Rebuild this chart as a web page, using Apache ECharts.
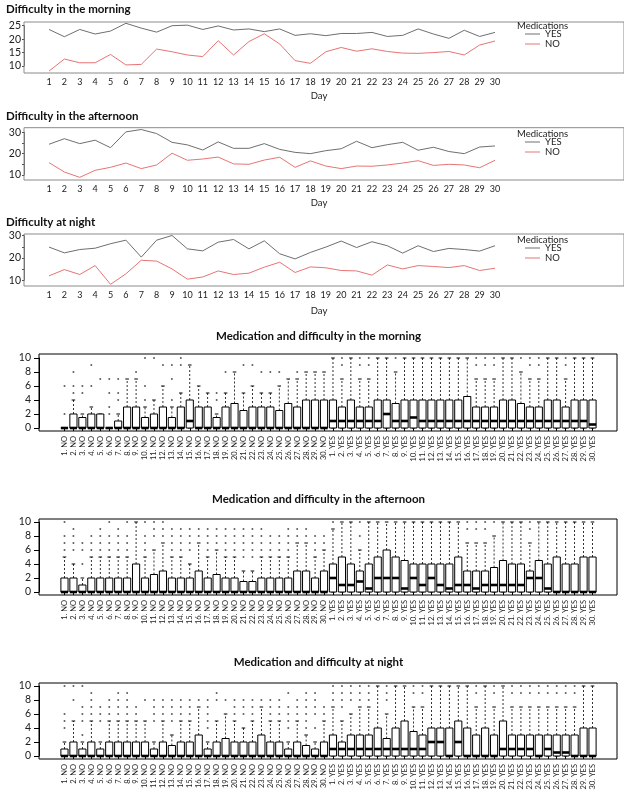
<!DOCTYPE html>
<html><head><meta charset="utf-8">
<script src="https://cdn.jsdelivr.net/npm/echarts@6/dist/echarts.min.js"></script>
<style>html,body{margin:0;padding:0;background:#fff}#c{width:624px;height:797px}</style>
</head><body><div id="c"></div>
<script>
const days = [1,2,3,4,5,6,7,8,9,10,11,12,13,14,15,16,17,18,19,20,21,22,23,24,25,26,27,28,29,30];

const morningYes = [23.6,20.9,23.6,21.9,23.0,25.9,24.1,22.6,25.0,25.2,23.6,24.9,23.4,23.8,22.8,23.8,21.4,22.0,21.3,22.1,22.1,22.5,21.0,21.4,23.8,21.9,20.3,23.3,21.0,22.5];
const morningNo = [8.1,12.6,11.2,11.2,14.3,10.4,10.6,16.3,15.3,14.1,13.5,19.4,14.1,19.1,22.0,18.2,12.0,11.0,15.3,16.9,15.5,16.4,15.4,14.8,14.7,15.0,15.4,14.1,17.8,19.3];
const afternoonYes = [24.4,27.0,24.7,26.3,22.8,30.2,31.3,29.4,25.3,24.1,21.7,25.5,22.5,22.5,24.7,22.0,20.6,20.0,21.4,22.3,25.8,22.8,24.2,25.3,21.6,23.0,21.0,20.0,23.1,23.6];
const afternoonNo = [15.8,11.4,8.9,12.2,13.6,15.6,13.0,14.7,20.2,16.9,17.5,18.4,15.2,15.0,17.0,18.3,13.6,16.6,14.2,13.0,14.2,14.1,14.7,15.6,16.7,14.5,15.0,14.7,13.4,16.9];
const nightYes = [24.9,22.3,23.8,24.4,26.4,28.0,20.4,28.0,30.1,24.1,23.2,27.1,28.3,24.1,27.7,21.9,19.6,22.5,24.9,27.6,24.7,27.3,25.5,22.2,25.5,22.9,24.3,23.8,23.1,25.5];
const nightNo = [12.0,14.8,12.6,16.6,8.2,12.9,19.0,18.6,15.1,10.5,11.5,14.2,12.6,13.2,15.9,18.1,13.5,16.0,15.6,14.4,14.2,12.3,16.9,15.1,16.6,16.2,15.7,16.6,14.4,15.4];

// box stats: [lower whisker, Q1, median, Q3, upper whisker]
const morningNoStats = [[0,0,0,0,0],[0,0,0,2,4],[0,0,0,1.5,2],[0,0,0,2,3],[0,0,0,2,2],[0,0,0,0,0],[0,0,0,1,2],[0,0,0,3,7],[0,0,0,3,7],[0,0,0,1.5,3],[0,0,0,2,4],[0,0,0,3,6],[0,0,0,1.5,3],[0,0,0,3,5],[0,0,1,4,9],[0,0,0,3,6],[0,0,0,3,5],[0,0,0,1.5,2],[0,0,0,3,5],[0,0,0,3.5,8],[0,0,0,2.5,5],[0,0,0,3,6],[0,0,0,3,5],[0,0,0,3,5],[0,0,0,2.5,6],[0,0,0,3.5,7],[0,0,0,3,7],[0,0,0,4,8],[0,0,0,4,8],[0,0,0,4,8]];
const morningNoOut = [[2,6],[5,6,8],[5,6],[6,9],[7],[2,3,5,7],[4,5,7],[],[8],[4,6,10],[10],[9],[4,7,9],[9,10],[],[],[],[4,5],[8],[],[9],[9],[8],[8],[8],[],[8],[],[],[]];
const morningYesStats = [[0,0,1,4,10],[0,0,1,3,7],[0,0,1,4,10],[0,0,1,3,7],[0,0,1,3,7],[0,0,1,4,10],[0,0,2,4,10],[0,0,1,3.5,8],[0,0,1,4,10],[0,0,1.5,4,10],[0,0,1,4,10],[0,0,1,4,10],[0,0,1,4,10],[0,0,1,4,10],[0,0,1,4,10],[0,0,1,4.5,10],[0,0,1,3,7],[0,0,1,3,7],[0,0,1,3,7],[0,0,1,4,10],[0,0,1,4,10],[0,0,1,3.5,8],[0,0,1,3,7],[0,0,1,3,7],[0,0,1,4,10],[0,0,1,4,10],[0,0,1,3,7],[0,0,1,4,10],[0,0,1,4,10],[0,0,0.5,4,10]];
const morningYesOut = [[],[9,10],[],[9,10],[9,10],[],[],[10],[],[],[],[],[],[],[],[],[9,10],[9,10],[9,10],[],[],[10],[9,10],[9,10],[],[],[9,10],[],[],[]];

const afternoonNoStats = [[0,0,0,2,5],[0,0,0,2,4],[0,0,0,1,2],[0,0,0,2,5],[0,0,0,2,5],[0,0,0,2,5],[0,0,0,2,5],[0,0,0,2,5],[0,0,0,4,10],[0,0,0,2,5],[0,0,0,2.5,6],[0,0,0,3,7],[0,0,0,2,5],[0,0,0,2,5],[0,0,0,2,4],[0,0,0,3,7],[0,0,0,2,5],[0,0,0,2.5,6],[0,0,0,2,5],[0,0,0,2,5],[0,0,0,1.5,3],[0,0,0,1.5,3],[0,0,0,2,5],[0,0,0,2,5],[0,0,0,2,5],[0,0,0,2,5],[0,0,0,3,7],[0,0,0,3,7],[0,0,0,2,5],[0,0,0,3,6]];
const afternoonNoOut = [[6,7,8,10],[6,7,8,9],[4,6,7],[6,7,8],[6,7,8,9],[6,7,8,10],[6,7,8,9],[6,7,8,10],[],[6,7,8,10],[8,9,10],[8,9,10],[6,7,8,9],[6,7,8,9],[6,7,8,9],[8,9],[6,7,8,9],[7,8,9],[6,7,8,9],[6,7,8,9],[5,6,7,8,9],[5,6,7,8,9],[6,7,8,9],[6,7,8],[6,7,8],[6,7,8,9],[8,9],[8,9],[6,7,8],[7,8]];
const afternoonYesStats = [[0,0,2,4,9],[0,0,1,5,10],[0,0,1,4,10],[0,0,1.5,3,6],[0,0,0.5,4,10],[0,0,2,5,10],[0,0,2,6,10],[0,0,2,5,10],[0,0,0.5,4.5,10],[0,0,2,4,10],[0,0,1,4,10],[0,0,2,4,10],[0,0,1,4,10],[0,0,0.5,4,10],[0,0,1,5,10],[0,0,1,3,7],[0,0,0.5,3,7],[0,0,1,3,7],[0,0,1,3.5,8],[0,0,1,4.5,10],[0,0,1,4,10],[0,0,1,4,10],[0,0,2,3,7],[0,0,2,4.5,10],[0,0,0.5,4,10],[0,0,0,5,10],[0,0,0,4,10],[0,0,0,4,10],[0,0,0,5,10],[0,0,0,5,10]];
const afternoonYesOut = [[10],[],[],[8,10],[],[],[],[],[],[],[],[],[],[],[],[9,10],[9,10],[9,10],[10],[],[],[],[9,10],[],[],[],[],[],[],[]];

const nightNoStats = [[0,0,0,1,2],[0,0,0,2,5],[0,0,0,1,2],[0,0,0,2,5],[0,0,0,1,2],[0,0,0,2,5],[0,0,0,2,5],[0,0,0,2,5],[0,0,0,2,5],[0,0,0,2,5],[0,0,0,1,2],[0,0,0,2,5],[0,0,0,1.5,3],[0,0,0,2,5],[0,0,0,2,5],[0,0,0,3,7],[0,0,0,1,2],[0,0,0,2,5],[0,0,0,2.5,6],[0,0,0,2,5],[0,0,0,2,4],[0,0,0,2,5],[0,0,0,3,7],[0,0,0,2,5],[0,0,0,2,5],[0,0,0,1,2],[0,0,0,2,5],[0,0,0,1.5,3],[0,0,0,1,2],[0,0,0,2,5]];
const nightNoOut = [[4,5,6,10],[8,10],[3,5,6,7,10],[6,7,8,9],[5,6,7],[6,7,8],[6,7,8,9],[6,7,8,9],[6,7],[8],[5,6,7,8],[6,7,8],[5,6,7,8],[6,7,8],[6,7,8],[8],[4,5,6,7,8],[8,9],[8],[6,7,8],[6,7,8],[6,7,8],[8],[6,7,8],[6,7,8],[4,5,6,7,9],[6,7,8],[4,5,6,7,8,9],[4,6,7,8,9],[6,7]];
const nightYesStats = [[0,0,1,3,7],[0,0,1,2,5],[0,0,1,3,6],[0,0,1,3,7],[0,0,1,3,7],[0,0,1,4,10],[0,0,1,2.5,6],[0,0,1,4,10],[0,0,1,5,10],[0,0,1,3.5,7],[0,0,1,3,7],[0,0,2,4,10],[0,0,2,4,10],[0,0,0,4,10],[0,0,2,5,10],[0,0,0,4,10],[0,0,0,3,7],[0,0,0,4,10],[0,0,0,3,7],[0,0,1,5,10],[0,0,1,3,7],[0,0,1,3,7],[0,0,1,3,7],[0,0,0,3,7],[0,0,1,3,7],[0,0,0.5,3,7],[0,0,0.5,3,7],[0,0,0,3,7],[0,0,0,4,10],[0,0,0,4,10]];
const nightYesOut = [[8,9,10],[7,8,9,10],[8,9,10],[8,9,10],[8,9,10],[],[8,9,10],[],[],[9,10],[9,10],[],[],[],[],[],[9,10],[],[9,10],[],[9,10],[9,10],[9,10],[9,10],[9,10],[9,10],[9,10],[9,10],[],[]];

const boxCategories = days.map(d => d + '. NO').concat(days.map(d => d + '. YES'));

const FONT = 'Lato, "Open Sans", sans-serif';
const TXT = '#222';
const YES_COLOR = '#6f6f6f';
const NO_COLOR = '#e87474';

const chart = echarts.init(document.getElementById('c'), null, {renderer: 'canvas'});
const opt = {animation: false, backgroundColor: '#fff', grid: [], xAxis: [], yAxis: [], series: [], title: [], legend: [], graphic: []};

function addFrame(g) {
  const gi = opt.grid.length;
  opt.grid.push(Object.assign({show: true, backgroundColor: 'transparent', borderWidth: 1}, g));
  opt.xAxis.push({gridIndex: gi, type: 'value', show: false, min: 0, max: 1});
  opt.yAxis.push({gridIndex: gi, type: 'value', show: false, min: 0, max: 1});
}

const lineCharts = [
  {title: 'Difficulty in the morning', yes: morningYes, no: morningNo, min: 10, max: 25, labelAll: true,
   titleTop: 3, data: {top: 25.7, bottom: 731}, frame: {top: 22, bottom: 724}, xOff: 7, dayY: 96, legTop: 20.5},
  {title: 'Difficulty in the afternoon', yes: afternoonYes, no: afternoonNo, min: 10, max: 30, labelAll: false,
   titleTop: 110, data: {top: 132.3, bottom: 622}, frame: {top: 127.7, bottom: 617}, xOff: 5, dayY: 203, legTop: 128.5},
  {title: 'Difficulty at night', yes: nightYes, no: nightNo, min: 10, max: 30, labelAll: false,
   titleTop: 216, data: {top: 235.7, bottom: 516.7}, frame: {top: 234, bottom: 511}, xOff: 5.7, dayY: 311, legTop: 234.5}
];

lineCharts.forEach(lc => {
  opt.title.push({text: lc.title, left: 6, top: lc.titleTop, padding: 0,
    textStyle: {fontFamily: FONT, fontSize: 11.5, fontWeight: 'bold', color: '#111'}});
  addFrame({left: 24, right: 0, top: lc.frame.top, bottom: lc.frame.bottom, borderColor: '#8a8a8a'});
  const gi = opt.grid.length;
  opt.grid.push({left: 49, right: 129, top: lc.data.top, bottom: lc.data.bottom});
  opt.xAxis.push({gridIndex: gi, type: 'value', min: 1, max: 30, interval: 1, offset: lc.xOff,
    axisLine: {show: false}, axisTick: {show: false}, splitLine: {show: false},
    axisLabel: {fontFamily: FONT, fontSize: 9, color: TXT, margin: 5}});
  opt.yAxis.push({gridIndex: gi, type: 'value', min: lc.min, max: lc.max, interval: 5, offset: 25,
    axisLine: {show: true, lineStyle: {color: '#777'}}, axisTick: {show: true, length: 2, lineStyle: {color: '#555'}},
    splitLine: {show: false},
    axisLabel: {fontFamily: FONT, fontSize: 10.5, color: TXT, margin: 3,
      formatter: v => (lc.labelAll || v % 10 === 0) ? String(v) : ''}});
  [['YES', lc.yes, YES_COLOR], ['NO', lc.no, NO_COLOR]].forEach(([name, vals, col]) => {
    opt.series.push({type: 'line', name, xAxisIndex: gi, yAxisIndex: gi, clip: false, symbol: 'none',
      color: col, lineStyle: {color: col, width: 1}, silent: true,
      data: days.map((d, i) => [d, vals[i]])});
  });
  opt.title.push({text: 'Medications', left: 517, top: lc.legTop, padding: 0,
    textStyle: {fontFamily: FONT, fontSize: 9.5, fontWeight: 'normal', color: TXT}});
  opt.legend.push({data: ['YES', 'NO'], left: 525, top: lc.legTop + 8.5, orient: 'vertical', padding: 0,
    itemGap: 0, itemWidth: 15, itemHeight: 1, icon: 'rect', selectedMode: false,
    textStyle: {fontFamily: FONT, fontSize: 9.5, color: TXT, lineHeight: 8, padding: [0, 0, 0, 0]}});
  opt.graphic.push({type: 'text', x: 319, y: lc.dayY,
    style: {text: 'Day', align: 'center', verticalAlign: 'middle', textAlign: 'center', textVerticalAlign: 'middle',
      fontFamily: FONT, fontSize: 9.5, fill: TXT}});
});

function renderBox(params, api) {
  const idx = api.value(0);
  const lo = api.value(1), q1 = api.value(2), med = api.value(3), q3 = api.value(4), hi = api.value(5);
  const band = api.size([1, 0])[0];
  const half = band * 0.4, sh = half * 0.5;
  const pLo = api.coord([idx, lo]), pQ1 = api.coord([idx, q1]), pMed = api.coord([idx, med]);
  const pQ3 = api.coord([idx, q3]), pHi = api.coord([idx, hi]);
  const x = pMed[0];
  const dash = {stroke: '#000', lineWidth: 0.8, lineDash: [2, 2]};
  const solid = {stroke: '#000', lineWidth: 1};
  const ch = [];
  if (hi > q3) ch.push({type: 'line', shape: {x1: x, y1: pQ3[1], x2: x, y2: pHi[1]}, style: dash});
  if (lo < q1) ch.push({type: 'line', shape: {x1: x, y1: pQ1[1], x2: x, y2: pLo[1]}, style: dash});
  ch.push({type: 'line', shape: {x1: x - sh, y1: pHi[1], x2: x + sh, y2: pHi[1]}, style: solid});
  ch.push({type: 'line', shape: {x1: x - sh, y1: pLo[1], x2: x + sh, y2: pLo[1]}, style: solid});
  ch.push({type: 'rect', shape: {x: x - half, y: pQ3[1], width: 2 * half, height: pQ1[1] - pQ3[1]},
    style: {fill: '#fff', stroke: '#000', lineWidth: 1}});
  ch.push({type: 'line', shape: {x1: x - half, y1: pMed[1], x2: x + half, y2: pMed[1]},
    style: {stroke: '#000', lineWidth: 2.6}});
  return {type: 'group', children: ch};
}

const boxCharts = [
  {title: 'Medication and difficulty in the morning', no: morningNoStats, yes: morningYesStats, noOut: morningNoOut, yesOut: morningYesOut,
   titleTop: 330, data: {top: 358, bottom: 369}, frame: {top: 354, bottom: 366}},
  {title: 'Medication and difficulty in the afternoon', no: afternoonNoStats, yes: afternoonYesStats, noOut: afternoonNoOut, yesOut: afternoonYesOut,
   titleTop: 493, data: {top: 522, bottom: 205}, frame: {top: 519, bottom: 202}},
  {title: 'Medication and difficulty at night', no: nightNoStats, yes: nightYesStats, noOut: nightNoOut, yesOut: nightYesOut,
   titleTop: 656, data: {top: 686, bottom: 41}, frame: {top: 683, bottom: 38}}
];

boxCharts.forEach(bc => {
  opt.title.push({text: bc.title, left: 318.5, textAlign: 'center', top: bc.titleTop, padding: 0,
    textStyle: {fontFamily: FONT, fontSize: 11.5, fontWeight: 'bold', color: '#111'}});
  addFrame({left: 39, right: 7, top: bc.frame.top, bottom: bc.frame.bottom, borderColor: '#000'});
  const gi = opt.grid.length;
  opt.grid.push({left: 60, right: 27, top: bc.data.top, bottom: bc.data.bottom});
  opt.xAxis.push({gridIndex: gi, type: 'category', data: boxCategories, boundaryGap: true, offset: 3,
    axisLine: {show: false}, splitLine: {show: false},
    axisTick: {show: true, alignWithLabel: true, interval: 0, length: 3, lineStyle: {color: '#000'}},
    axisLabel: {interval: 0, rotate: 90, fontFamily: FONT, fontSize: 7.5, color: TXT, margin: 5}});
  opt.yAxis.push({gridIndex: gi, type: 'value', min: 0, max: 10, interval: 2, offset: 21,
    axisLine: {show: true, lineStyle: {color: '#000'}}, axisTick: {show: true, length: 5, lineStyle: {color: '#000'}},
    splitLine: {show: false},
    axisLabel: {fontFamily: FONT, fontSize: 10.5, color: TXT, margin: 8}});
  const stats = bc.no.concat(bc.yes);
  const outs = bc.noOut.concat(bc.yesOut);
  opt.series.push({type: 'custom', xAxisIndex: gi, yAxisIndex: gi, silent: true,
    encode: {x: 0, y: [1, 2, 3, 4, 5]}, renderItem: renderBox,
    data: stats.map((s, i) => [i].concat(s))});
  const pts = [];
  outs.forEach((arr, i) => arr.forEach(v => pts.push([i, v])));
  opt.series.push({type: 'scatter', xAxisIndex: gi, yAxisIndex: gi, silent: true, symbol: 'circle', symbolSize: 2,
    itemStyle: {color: '#333'}, data: pts});
});

chart.setOption(opt);
</script></body></html>
